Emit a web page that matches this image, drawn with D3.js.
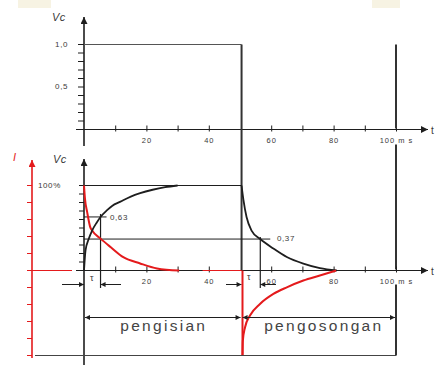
<!DOCTYPE html>
<html>
<head>
<meta charset="utf-8">
<script src="https://cdn.jsdelivr.net/npm/d3@7/dist/d3.min.js"></script>
<style>
  html, body { margin: 0; padding: 0; background: #fff; }
  svg { display: block; }
  text { font-family: "Liberation Sans", Arial, sans-serif; }
</style>
</head>
<body>
<svg id="chart" width="436" height="372"></svg>
<script>
// ---- data ----
// time in ms, voltage / current in percent of the maximum
const chargeTime    = [0, 0.5, 1.5, 2.6, 4, 5.3, 7.4, 9, 11.7, 15, 18, 22, 26, 30];
const chargeVc      = [0, 24, 37, 47, 56, 63, 71, 76, 81, 87, 91, 95, 98, 100];
const chargeITime   = [0, 0.3, 1, 2, 2.6, 5.3, 8.5, 12.6, 18, 23.4, 30.5];
const chargeI       = [100, 85, 69, 51, 47, 37.5, 27.6, 15.7, 8.3, 2.4, 0];
const dischargeTime = [50.5, 51.1, 52.1, 53.7, 56.5, 60.7, 65, 70.3, 75.6, 81];
const dischargeVc   = [100, 83, 63, 47, 37, 25.8, 15.8, 8, 2.7, 0];
const dischargeITime = [50.8, 50.9, 51.6, 53.2, 56.4, 60.7, 65, 70.3, 75.6, 80.8];
const dischargeI    = [-100, -83, -67, -53, -39.4, -27.6, -19.8, -11.8, -5.9, 0];

const switchTime = 50.5;       // supply switched off
const tauCharge = 5.3;         // Vc reaches 63 %
const tauDischarge = 56.5;     // Vc falls to 37 %
const levelCharge = 63;
const levelDischarge = 37;

const xTickValues = [10, 20, 30, 40, 60, 70, 80, 90, 100];
const xTickLabels = ["", "20", "", "40", "60", "", "80", "", "100 m s"];
const topTickValues = [0.1, 0.2, 0.3, 0.4, 0.5, 0.6, 0.7, 0.8, 0.9, 1.0];
const topLabelValues = [1.0, 0.5];
const topLabels = ["1,0", "0,5"];
const vTickValues = [10, 20, 30, 40, 50, 60, 70, 80, 90, 100];
const iTickValues = [-100, -80, -60, -40, -20, 0, 20, 40, 60, 80, 100];
const phaseLabels = ["pengisian", "pengosongan"];

// ---- scales ----
const x = d3.scaleLinear().domain([0, 100]).range([84, 396]);
const yTop = d3.scaleLinear().domain([0, 1]).range([129.5, 44.5]);
const yLow = d3.scaleLinear().domain([-100, 100]).range([355.5, 185.5]);

const svg = d3.select("#chart");
const BLACK = "#1e1e1e", RED = "#e41a1c", GREY = "#3a3a3a";

// faint paper marks along the top edge
svg.append("rect").attr("x", 18).attr("y", 0).attr("width", 33).attr("height", 8).attr("fill", "#f7f3e3");
svg.append("rect").attr("x", 372).attr("y", 0).attr("width", 28).attr("height", 8).attr("fill", "#f7f3e3");

const defs = svg.append("defs");
function arrowMarker(id, color, w, h) {
  defs.append("marker").attr("id", id)
    .attr("viewBox", "0 0 10 10").attr("refX", 10).attr("refY", 5)
    .attr("markerUnits", "userSpaceOnUse")
    .attr("markerWidth", w).attr("markerHeight", h)
    .attr("orient", "auto-start-reverse")
    .append("path").attr("d", "M0,0 L10,5 L0,10 Z").attr("fill", color);
}
arrowMarker("ab", BLACK, 9, 7);
arrowMarker("ar", RED, 9, 7);
arrowMarker("dim", BLACK, 10, 5);

function seg(x1, y1, x2, y2, color, w, extra) {
  const l = svg.append("line").attr("x1", x1).attr("y1", y1).attr("x2", x2).attr("y2", y2)
    .attr("stroke", color).attr("stroke-width", w);
  if (extra) extra(l);
  return l;
}
function label(txt, px, py, opts = {}) {
  return svg.append("text").attr("x", px).attr("y", py)
    .attr("font-size", opts.size || 8)
    .attr("fill", opts.color || GREY)
    .attr("text-anchor", opts.anchor || "start")
    .attr("dominant-baseline", "middle")
    .attr("letter-spacing", opts.spacing || 0.6)
    .attr("font-style", opts.italic ? "italic" : "normal")
    .text(txt);
}

// ---- x axes (time) ----
function timeAxis(y0) {
  const g = svg.append("g").attr("transform", `translate(0,${y0})`)
    .call(d3.axisBottom(x).tickValues(xTickValues)
      .tickSize(0).tickPadding(8)
      .tickFormat((d, i) => xTickLabels[i]));
  g.select(".domain").remove();
  g.selectAll(".tick text").attr("font-size", 7.5).attr("fill", GREY)
    .attr("letter-spacing", 1).attr("font-family", "Liberation Sans, Arial, sans-serif");
  g.selectAll(".tick").append("line").attr("y1", -4).attr("y2", 2)
    .attr("stroke", BLACK).attr("stroke-width", 1);
  seg(76, y0, 428, y0, BLACK, 1.2, l => l.attr("marker-end", "url(#ab)"));
  label("t", 431, y0 + 2, { size: 10, color: GREY });
}

// ---- upper chart ----
seg(x(0), 146, x(0), 17, BLACK, 1.6, l => l.attr("marker-end", "url(#ab)"));
svg.selectAll(".ttick").data(topTickValues).join("line")
  .attr("x1", x(0) - 6).attr("x2", x(0))
  .attr("y1", d => yTop(d)).attr("y2", d => yTop(d))
  .attr("stroke", BLACK).attr("stroke-width", 1);
topLabelValues.forEach((v, i) => label(topLabels[i], 68, yTop(v), { anchor: "end" }));
label("Vc", 52, 18, { size: 11, italic: true, spacing: 0.5 });
seg(x(0), yTop(1), x(switchTime), yTop(1), "#555", 1);
timeAxis(yTop(0));

// thick boundaries: switching instant and end of the time window
seg(x(switchTime), yTop(1), x(switchTime), yLow(0), "#333", 2);
seg(x(100), yTop(1), x(100), yTop(0) - 1, "#333", 2);
seg(x(100), yTop(0) + 15, x(100), yLow(0) - 1, "#333", 2);
seg(x(100), yLow(0) + 14, x(100), yLow(-100), "#333", 2);

// ---- lower chart ----
// red current axis
seg(32, 358, 32, 160, RED, 1.6, l => l.attr("marker-end", "url(#ar)"));
svg.selectAll(".itick").data(iTickValues).join("line")
  .attr("x1", 27).attr("x2", 32)
  .attr("y1", d => yLow(d)).attr("y2", d => yLow(d))
  .attr("stroke", RED).attr("stroke-width", 1);
label("I", 13, 158, { size: 11, italic: true, color: RED });
seg(28, yLow(0), 72, yLow(0), RED, 1.2);

// voltage axis
seg(x(0), 365, x(0), 159, BLACK, 1.6, l => l.attr("marker-end", "url(#ab)"));
svg.selectAll(".vtick").data(vTickValues).join("line")
  .attr("x1", x(0) - 5).attr("x2", x(0))
  .attr("y1", d => yLow(d)).attr("y2", d => yLow(d))
  .attr("stroke", BLACK).attr("stroke-width", 1);
label("Vc", 53, 160, { size: 11, italic: true, spacing: 0.5 });
label("100%", 38, yLow(100), { size: 8 });

seg(x(0), yLow(100), x(switchTime), yLow(100), BLACK, 1);
timeAxis(yLow(0));
// current held at zero until the switch
seg(x(38), yLow(0), x(switchTime), yLow(0), RED, 1.2);

// time-constant construction lines
seg(x(0), yLow(levelCharge), x(tauCharge) + 6, yLow(levelCharge), BLACK, 1);
seg(x(tauCharge), yLow(levelCharge) - 3, x(tauCharge), 288, BLACK, 1.2);
label("0,63", 110, yLow(levelCharge) + 1, { size: 8 });
seg(x(0), yLow(levelDischarge), x(tauDischarge) + 10, yLow(levelDischarge), BLACK, 1);
seg(x(tauDischarge), yLow(levelDischarge) - 2, x(tauDischarge), 288, BLACK, 1.2);
label("0,37", 277, yLow(levelDischarge), { size: 8 });

// τ dimension arrows
const dimY = 284.5;
seg(62, dimY, x(0), dimY, BLACK, 1, l => l.attr("marker-end", "url(#dim)"));
seg(121, dimY, x(tauCharge), dimY, BLACK, 1, l => l.attr("marker-end", "url(#dim)"));
label("τ", 90, 279, { size: 9 });
seg(226, dimY, x(switchTime), dimY, BLACK, 1, l => l.attr("marker-end", "url(#dim)"));
seg(276, dimY, x(tauDischarge), dimY, BLACK, 1, l => l.attr("marker-end", "url(#dim)"));
label("τ", 247, 278, { size: 9 });

// curves
const line = d3.line().x(d => x(d[0])).y(d => yLow(d[1])).curve(d3.curveMonotoneX);
svg.append("path").datum(d3.zip(chargeITime, chargeI)).attr("d", line)
  .attr("fill", "none").attr("stroke", RED).attr("stroke-width", 2);
svg.append("path").datum(d3.zip(chargeTime, chargeVc)).attr("d", line)
  .attr("fill", "none").attr("stroke", BLACK).attr("stroke-width", 1.8);
svg.append("path").datum(d3.zip(dischargeTime, dischargeVc)).attr("d", line)
  .attr("fill", "none").attr("stroke", BLACK).attr("stroke-width", 1.8);
seg(x(dischargeITime[0]), yLow(0), x(dischargeITime[0]), yLow(-100), RED, 2);
svg.append("path").datum(d3.zip(dischargeITime, dischargeI)).attr("d", line)
  .attr("fill", "none").attr("stroke", RED).attr("stroke-width", 2);

// bottom frame line
seg(35, yLow(-100), x(100), yLow(-100), "#444", 1.2);

// phase dimension arrows
const phaseY = 317.5;
const phases = [[0, switchTime], [switchTime, 100]];
phases.forEach((p, i) => {
  seg(x(p[0]) + 1, phaseY, x(p[1]) - 1, phaseY, BLACK, 1.2, l =>
    l.attr("marker-start", "url(#dim)").attr("marker-end", "url(#dim)"));
  svg.append("text")
    .attr("x", (x(p[0]) + x(p[1])) / 2 + (i === 0 ? 1 : 5)).attr("y", 327)
    .attr("text-anchor", "middle").attr("dominant-baseline", "middle")
    .attr("font-size", 15.5).attr("letter-spacing", 2.3).attr("fill", "#444")
    .text(phaseLabels[i]);
});
</script>
</body>
</html>
